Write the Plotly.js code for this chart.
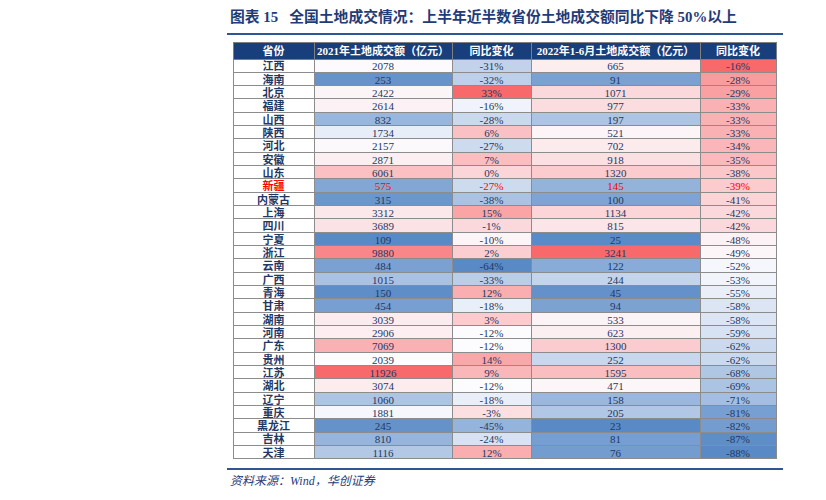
<!DOCTYPE html>
<html><head><meta charset="utf-8">
<script src="https://cdn.plot.ly/plotly-3.0.1.min.js"></script>
<style>html,body{margin:0;padding:0;background:#fff}</style>
</head><body><div id="chart" style="width:826px;height:500px"></div>
<script>
const provinces = ['江西','海南','北京','福建','山西','陕西','河北','安徽','山东','新疆','内蒙古','上海','四川','宁夏','浙江','云南','广西','青海','甘肃','湖南','河南','广东','贵州','江苏','湖北','辽宁','重庆','黑龙江','吉林','天津'];
const land2021 = [2078,253,2422,2614,832,1734,2157,2871,6061,575,315,3312,3689,109,9880,484,1015,150,454,3039,2906,7069,2039,11926,3074,1060,1881,245,810,1116];
const yoy2021 = [-31,-32,33,-16,-28,6,-27,7,0,-27,-38,15,-1,-10,2,-64,-33,12,-18,3,-12,-12,14,9,-12,-18,-3,-45,-24,12];
const land2022H1 = [665,91,1071,977,197,521,702,918,1320,145,100,1134,815,25,3241,122,244,45,94,533,623,1300,252,1595,471,158,205,23,81,76];
const yoy2022H1 = [-16,-28,-29,-33,-33,-33,-34,-35,-38,-39,-41,-42,-42,-48,-49,-52,-53,-55,-58,-58,-59,-62,-62,-68,-69,-71,-81,-82,-87,-88];
const headers = ['省份','2021年土地成交额（亿元）','同比变化','2022年1-6月土地成交额（亿元）','同比变化'];
const highlight = '新疆';

// Excel-style 3-colour scale (min blue, 50th percentile white, max red)
const BLUE=[90,138,198], WHITE=[252,252,255], RED=[248,105,107];
function scaleColors(arr){
  const s=[...arr].sort((a,b)=>a-b), n=s.length;
  const med = n%2 ? s[(n-1)/2] : (s[n/2-1]+s[n/2])/2;
  const mn=s[0], mx=s[n-1];
  return arr.map(v=>{
    let c1,t;
    if(v>=med){c1=RED;t=mx===med?0:(v-med)/(mx-med);} else {c1=BLUE;t=(med-v)/(med-mn);}
    const c=WHITE.map((x,i)=>Math.round(x+(c1[i]-x)*t));
    return 'rgb('+c.join(',')+')';
  });
}
const navy='#1F3864';
const txtColors = provinces.map(p=>p===highlight?'#FF0000':navy);
const fills = [provinces.map(()=> '#FFFFFF'), scaleColors(land2021), scaleColors(yoy2021), scaleColors(land2022H1), scaleColors(yoy2022H1)];
const cellText = [provinces, land2021.map(String), yoy2021.map(v=>v+'%'), land2022H1.map(String), yoy2022H1.map(v=>v+'%')];
const FONT='Liberation Serif, Noto Sans CJK SC';

const W=826,H=500;
const x0=233,x1=776,y0=42,y1=459, hdr=17, rowH=13.33;
const colW=[81,138,79,169,76];
// background table: fills and grid only
const fillTable={
  type:'table',
  domain:{x:[x0/W,x1/W],y:[1-y1/H,1-y0/H]},
  columnwidth:colW,
  header:{values:headers.map(()=>''),height:hdr,fill:{color:'#183E7C'},line:{color:'#7F7F7F',width:1},font:{size:11}},
  cells:{values:cellText.map(c=>c.map(()=>'')),height:rowH,fill:{color:fills},line:{color:'#8C8C8C',width:1},font:{size:11}}
};
// text table overlaid, shifted so text sits centred in each cell
const shiftC=5, shiftH=3;
const textTable={
  type:'table',
  domain:{x:[x0/W,x1/W],y:[1-(y1+8)/H,1-(y0-shiftH)/H]},
  columnwidth:colW,
  header:{
    values:headers,align:'center',height:hdr-(shiftC-shiftH),
    fill:{color:'rgba(0,0,0,0)'},line:{color:'rgba(0,0,0,0)',width:0},
    font:{family:FONT,size:11,color:'#FFFFFF',weight:'bold'}
  },
  cells:{
    values:cellText,align:'center',height:rowH,
    fill:{color:'rgba(0,0,0,0)'},line:{color:'rgba(0,0,0,0)',width:0},
    font:{family:FONT,size:11,color:[txtColors,txtColors,txtColors,txtColors,txtColors],weight:['bold','normal','normal','normal','normal']}
  }
};
const layout={
  width:W,height:H,margin:{l:0,r:0,t:0,b:0},
  paper_bgcolor:'#fff',
  title:{text:'图表 15   全国土地成交情况：上半年近半数省份土地成交额同比下降 50%以上',x:230/W,xanchor:'left',y:1-17/H,yanchor:'middle',
    font:{family:FONT,size:14.8,color:'#1F3C78',weight:'bold'}},
  shapes:[
    {type:'line',xref:'paper',yref:'paper',x0:227/W,x1:783/W,y0:1-34/H,y1:1-34/H,line:{color:'#2F5597',width:2}},
    {type:'line',xref:'paper',yref:'paper',x0:227/W,x1:783/W,y0:1-469/H,y1:1-469/H,line:{color:'#2F5597',width:2}}
  ],
  annotations:[{text:'资料来源：Wind，华创证券',xref:'paper',yref:'paper',x:228/W,y:1-481/H,xanchor:'left',yanchor:'middle',showarrow:false,
    font:{family:FONT,size:12,color:'#1F3C78',style:'italic'}}]
};
Plotly.newPlot('chart',[fillTable,textTable],layout,{displayModeBar:false,staticPlot:true});
</script></body></html>
